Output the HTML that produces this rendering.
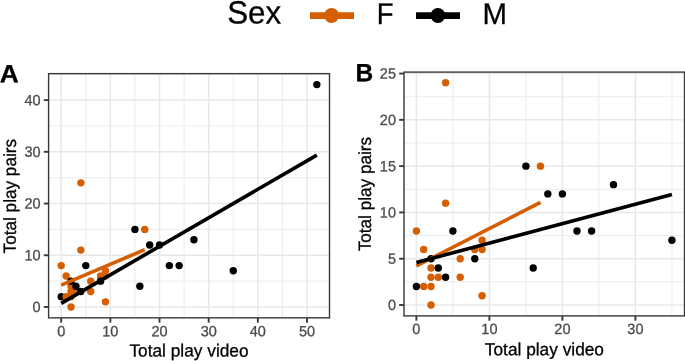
<!DOCTYPE html>
<html lang="en">
<head>
<meta charset="utf-8">
<title>Total play pairs vs total play video by sex</title>
<style>
html,body{margin:0;padding:0;background:#fff;}
body{width:685px;height:361px;overflow:hidden;font-family:"Liberation Sans",sans-serif;}
svg{display:block;}
svg text{stroke-width:0.3px;stroke-linejoin:round;}
svg text.tk{stroke:#4D4D4D;}
svg text.bk{stroke:#000;}
</style>
</head>
<body>
<svg width="685" height="361" viewBox="0 0 685 361" font-family="'Liberation Sans', sans-serif">
<rect x="0" y="0" width="685" height="361" fill="#ffffff"/>
<text transform="translate(227.2,23.6) rotate(0.03) scale(1,1.03)" font-size="31.3" class="bk" fill="#000">Sex</text>
<line x1="310" y1="15.55" x2="354" y2="15.55" stroke="#D55E00" stroke-width="6.7"/>
<circle cx="331.6" cy="15.5" r="7.5" fill="#D55E00"/>
<text transform="translate(376.8,24) rotate(0.03) scale(0.915,1)" font-size="30" class="bk" fill="#000">F</text>
<line x1="416" y1="15.55" x2="460" y2="15.55" stroke="#000000" stroke-width="6.7"/>
<circle cx="437.9" cy="15.5" r="7.4" fill="#000000"/>
<text transform="translate(482.45,24) rotate(0.03) scale(0.98,1)" font-size="30" class="bk" fill="#000">M</text>
<g id="panelA">
<line x1="85.78" y1="73.65" x2="85.78" y2="317.85" stroke="#E8E8E8" stroke-width="0.85"/>
<line x1="134.94" y1="73.65" x2="134.94" y2="317.85" stroke="#E8E8E8" stroke-width="0.85"/>
<line x1="184.1" y1="73.65" x2="184.1" y2="317.85" stroke="#E8E8E8" stroke-width="0.85"/>
<line x1="233.26" y1="73.65" x2="233.26" y2="317.85" stroke="#E8E8E8" stroke-width="0.85"/>
<line x1="282.42" y1="73.65" x2="282.42" y2="317.85" stroke="#E8E8E8" stroke-width="0.85"/>
<line x1="48.6" y1="281.14" x2="329.5" y2="281.14" stroke="#E8E8E8" stroke-width="0.85"/>
<line x1="48.6" y1="229.41" x2="329.5" y2="229.41" stroke="#E8E8E8" stroke-width="0.85"/>
<line x1="48.6" y1="177.69" x2="329.5" y2="177.69" stroke="#E8E8E8" stroke-width="0.85"/>
<line x1="48.6" y1="125.96" x2="329.5" y2="125.96" stroke="#E8E8E8" stroke-width="0.85"/>
<line x1="48.6" y1="74.24" x2="329.5" y2="74.24" stroke="#E8E8E8" stroke-width="0.85"/>
<line x1="61.2" y1="73.65" x2="61.2" y2="317.85" stroke="#E8E8E8" stroke-width="1.5"/>
<line x1="110.36" y1="73.65" x2="110.36" y2="317.85" stroke="#E8E8E8" stroke-width="1.5"/>
<line x1="159.52" y1="73.65" x2="159.52" y2="317.85" stroke="#E8E8E8" stroke-width="1.5"/>
<line x1="208.68" y1="73.65" x2="208.68" y2="317.85" stroke="#E8E8E8" stroke-width="1.5"/>
<line x1="257.84" y1="73.65" x2="257.84" y2="317.85" stroke="#E8E8E8" stroke-width="1.5"/>
<line x1="307" y1="73.65" x2="307" y2="317.85" stroke="#E8E8E8" stroke-width="1.5"/>
<line x1="48.6" y1="307" x2="329.5" y2="307" stroke="#E8E8E8" stroke-width="1.5"/>
<line x1="48.6" y1="255.28" x2="329.5" y2="255.28" stroke="#E8E8E8" stroke-width="1.5"/>
<line x1="48.6" y1="203.55" x2="329.5" y2="203.55" stroke="#E8E8E8" stroke-width="1.5"/>
<line x1="48.6" y1="151.82" x2="329.5" y2="151.82" stroke="#E8E8E8" stroke-width="1.5"/>
<line x1="48.6" y1="100.1" x2="329.5" y2="100.1" stroke="#E8E8E8" stroke-width="1.5"/>
<circle cx="61.2" cy="296.65" r="3.7" fill="#000000"/>
<circle cx="61.2" cy="265.62" r="3.7" fill="#D55E00"/>
<circle cx="66.12" cy="275.96" r="3.7" fill="#D55E00"/>
<circle cx="66.12" cy="296.65" r="3.7" fill="#D55E00"/>
<circle cx="71.03" cy="307" r="3.7" fill="#D55E00"/>
<circle cx="71.03" cy="296.65" r="3.7" fill="#D55E00"/>
<circle cx="71.03" cy="291.48" r="3.7" fill="#D55E00"/>
<circle cx="71.03" cy="286.31" r="3.7" fill="#D55E00"/>
<circle cx="75.95" cy="291.48" r="3.7" fill="#D55E00"/>
<circle cx="80.86" cy="250.1" r="3.7" fill="#D55E00"/>
<circle cx="80.86" cy="182.86" r="3.7" fill="#D55E00"/>
<circle cx="90.7" cy="281.14" r="3.7" fill="#D55E00"/>
<circle cx="90.7" cy="291.48" r="3.7" fill="#D55E00"/>
<circle cx="100.53" cy="275.96" r="3.7" fill="#D55E00"/>
<circle cx="105.44" cy="270.79" r="3.7" fill="#D55E00"/>
<circle cx="105.44" cy="275.96" r="3.7" fill="#D55E00"/>
<circle cx="105.44" cy="301.83" r="3.7" fill="#D55E00"/>
<circle cx="144.77" cy="229.41" r="3.7" fill="#D55E00"/>
<circle cx="71.03" cy="281.14" r="3.7" fill="#000000"/>
<circle cx="75.95" cy="286.31" r="3.7" fill="#000000"/>
<circle cx="80.86" cy="291.48" r="3.7" fill="#000000"/>
<circle cx="85.78" cy="265.62" r="3.7" fill="#000000"/>
<circle cx="100.53" cy="281.14" r="3.7" fill="#000000"/>
<circle cx="134.94" cy="229.41" r="3.7" fill="#000000"/>
<circle cx="139.86" cy="286.31" r="3.7" fill="#000000"/>
<circle cx="149.69" cy="244.93" r="3.7" fill="#000000"/>
<circle cx="159.52" cy="244.93" r="3.7" fill="#000000"/>
<circle cx="169.35" cy="265.62" r="3.7" fill="#000000"/>
<circle cx="179.18" cy="265.62" r="3.7" fill="#000000"/>
<circle cx="193.93" cy="239.76" r="3.7" fill="#000000"/>
<circle cx="233.26" cy="270.79" r="3.7" fill="#000000"/>
<circle cx="316.83" cy="84.58" r="3.7" fill="#000000"/>
<line x1="61.2" y1="285.2" x2="144.77" y2="249.67" stroke="#D55E00" stroke-width="3.6"/>
<line x1="61.2" y1="303.32" x2="316.83" y2="155.08" stroke="#000000" stroke-width="3.6"/>
<rect x="48.6" y="73.65" width="280.9" height="244.2" fill="none" stroke="#383838" stroke-width="1.4"/>
<line x1="61.2" y1="317.85" x2="61.2" y2="322.65" stroke="#383838" stroke-width="1.9"/>
<text transform="translate(61.2,336.2) rotate(0.03) scale(1,1.025)" class="tk" font-size="14.5" fill="#4D4D4D" text-anchor="middle">0</text>
<line x1="110.36" y1="317.85" x2="110.36" y2="322.65" stroke="#383838" stroke-width="1.9"/>
<text transform="translate(110.36,336.2) rotate(0.03) scale(1,1.025)" class="tk" font-size="14.5" fill="#4D4D4D" text-anchor="middle">10</text>
<line x1="159.52" y1="317.85" x2="159.52" y2="322.65" stroke="#383838" stroke-width="1.9"/>
<text transform="translate(159.52,336.2) rotate(0.03) scale(1,1.025)" class="tk" font-size="14.5" fill="#4D4D4D" text-anchor="middle">20</text>
<line x1="208.68" y1="317.85" x2="208.68" y2="322.65" stroke="#383838" stroke-width="1.9"/>
<text transform="translate(208.68,336.2) rotate(0.03) scale(1,1.025)" class="tk" font-size="14.5" fill="#4D4D4D" text-anchor="middle">30</text>
<line x1="257.84" y1="317.85" x2="257.84" y2="322.65" stroke="#383838" stroke-width="1.9"/>
<text transform="translate(257.84,336.2) rotate(0.03) scale(1,1.025)" class="tk" font-size="14.5" fill="#4D4D4D" text-anchor="middle">40</text>
<line x1="307" y1="317.85" x2="307" y2="322.65" stroke="#383838" stroke-width="1.9"/>
<text transform="translate(307,336.2) rotate(0.03) scale(1,1.025)" class="tk" font-size="14.5" fill="#4D4D4D" text-anchor="middle">50</text>
<line x1="43.8" y1="307" x2="48.6" y2="307" stroke="#383838" stroke-width="1.9"/>
<text transform="translate(40.6,312.05) rotate(0.03) scale(1,1.025)" class="tk" font-size="14.5" fill="#4D4D4D" text-anchor="end">0</text>
<line x1="43.8" y1="255.28" x2="48.6" y2="255.28" stroke="#383838" stroke-width="1.9"/>
<text transform="translate(40.6,260.32) rotate(0.03) scale(1,1.025)" class="tk" font-size="14.5" fill="#4D4D4D" text-anchor="end">10</text>
<line x1="43.8" y1="203.55" x2="48.6" y2="203.55" stroke="#383838" stroke-width="1.9"/>
<text transform="translate(40.6,208.6) rotate(0.03) scale(1,1.025)" class="tk" font-size="14.5" fill="#4D4D4D" text-anchor="end">20</text>
<line x1="43.8" y1="151.82" x2="48.6" y2="151.82" stroke="#383838" stroke-width="1.9"/>
<text transform="translate(40.6,156.88) rotate(0.03) scale(1,1.025)" class="tk" font-size="14.5" fill="#4D4D4D" text-anchor="end">30</text>
<line x1="43.8" y1="100.1" x2="48.6" y2="100.1" stroke="#383838" stroke-width="1.9"/>
<text transform="translate(40.6,105.15) rotate(0.03) scale(1,1.025)" class="tk" font-size="14.5" fill="#4D4D4D" text-anchor="end">40</text>
<text transform="translate(189,356.6) rotate(0.03) scale(0.982,1)" font-size="17.6" class="bk" fill="#000" text-anchor="middle">Total play video</text>
<text transform="translate(15.9,196.2) rotate(-89.97) scale(0.976,1)" font-size="17.6" class="bk" fill="#000" text-anchor="middle">Total play pairs</text>
<text transform="translate(-0.2,82.3) rotate(0.03) scale(1.05,1)" font-size="25" font-weight="bold" class="bk" fill="#000">A</text>
</g>
<g id="panelB">
<line x1="452.9" y1="72.1" x2="452.9" y2="315.9" stroke="#E8E8E8" stroke-width="0.85"/>
<line x1="525.9" y1="72.1" x2="525.9" y2="315.9" stroke="#E8E8E8" stroke-width="0.85"/>
<line x1="598.9" y1="72.1" x2="598.9" y2="315.9" stroke="#E8E8E8" stroke-width="0.85"/>
<line x1="671.9" y1="72.1" x2="671.9" y2="315.9" stroke="#E8E8E8" stroke-width="0.85"/>
<line x1="404" y1="281.86" x2="684.5" y2="281.86" stroke="#E8E8E8" stroke-width="0.85"/>
<line x1="404" y1="235.56" x2="684.5" y2="235.56" stroke="#E8E8E8" stroke-width="0.85"/>
<line x1="404" y1="189.28" x2="684.5" y2="189.28" stroke="#E8E8E8" stroke-width="0.85"/>
<line x1="404" y1="142.99" x2="684.5" y2="142.99" stroke="#E8E8E8" stroke-width="0.85"/>
<line x1="404" y1="96.7" x2="684.5" y2="96.7" stroke="#E8E8E8" stroke-width="0.85"/>
<line x1="416.4" y1="72.1" x2="416.4" y2="315.9" stroke="#E8E8E8" stroke-width="1.5"/>
<line x1="489.4" y1="72.1" x2="489.4" y2="315.9" stroke="#E8E8E8" stroke-width="1.5"/>
<line x1="562.4" y1="72.1" x2="562.4" y2="315.9" stroke="#E8E8E8" stroke-width="1.5"/>
<line x1="635.4" y1="72.1" x2="635.4" y2="315.9" stroke="#E8E8E8" stroke-width="1.5"/>
<line x1="404" y1="305" x2="684.5" y2="305" stroke="#E8E8E8" stroke-width="1.5"/>
<line x1="404" y1="258.71" x2="684.5" y2="258.71" stroke="#E8E8E8" stroke-width="1.5"/>
<line x1="404" y1="212.42" x2="684.5" y2="212.42" stroke="#E8E8E8" stroke-width="1.5"/>
<line x1="404" y1="166.13" x2="684.5" y2="166.13" stroke="#E8E8E8" stroke-width="1.5"/>
<line x1="404" y1="119.84" x2="684.5" y2="119.84" stroke="#E8E8E8" stroke-width="1.5"/>
<line x1="404" y1="73.55" x2="684.5" y2="73.55" stroke="#E8E8E8" stroke-width="1.5"/>
<circle cx="416.4" cy="286.48" r="3.7" fill="#000000"/>
<circle cx="416.4" cy="230.94" r="3.7" fill="#D55E00"/>
<circle cx="423.7" cy="249.45" r="3.7" fill="#D55E00"/>
<circle cx="423.7" cy="286.48" r="3.7" fill="#D55E00"/>
<circle cx="431" cy="305" r="3.7" fill="#D55E00"/>
<circle cx="431" cy="286.48" r="3.7" fill="#D55E00"/>
<circle cx="431" cy="277.23" r="3.7" fill="#D55E00"/>
<circle cx="431" cy="267.97" r="3.7" fill="#D55E00"/>
<circle cx="438.3" cy="277.23" r="3.7" fill="#D55E00"/>
<circle cx="445.6" cy="203.16" r="3.7" fill="#D55E00"/>
<circle cx="445.6" cy="82.81" r="3.7" fill="#D55E00"/>
<circle cx="460.2" cy="258.71" r="3.7" fill="#D55E00"/>
<circle cx="460.2" cy="277.23" r="3.7" fill="#D55E00"/>
<circle cx="474.8" cy="249.45" r="3.7" fill="#D55E00"/>
<circle cx="482.1" cy="240.19" r="3.7" fill="#D55E00"/>
<circle cx="482.1" cy="249.45" r="3.7" fill="#D55E00"/>
<circle cx="482.1" cy="295.74" r="3.7" fill="#D55E00"/>
<circle cx="540.5" cy="166.13" r="3.7" fill="#D55E00"/>
<circle cx="431" cy="258.71" r="3.7" fill="#000000"/>
<circle cx="438.3" cy="267.97" r="3.7" fill="#000000"/>
<circle cx="445.6" cy="277.23" r="3.7" fill="#000000"/>
<circle cx="452.9" cy="230.94" r="3.7" fill="#000000"/>
<circle cx="474.8" cy="258.71" r="3.7" fill="#000000"/>
<circle cx="525.9" cy="166.13" r="3.7" fill="#000000"/>
<circle cx="533.2" cy="267.97" r="3.7" fill="#000000"/>
<circle cx="547.8" cy="193.9" r="3.7" fill="#000000"/>
<circle cx="562.4" cy="193.9" r="3.7" fill="#000000"/>
<circle cx="577" cy="230.94" r="3.7" fill="#000000"/>
<circle cx="591.6" cy="230.94" r="3.7" fill="#000000"/>
<circle cx="613.5" cy="184.65" r="3.7" fill="#000000"/>
<circle cx="671.9" cy="240.19" r="3.7" fill="#000000"/>
<line x1="416.4" y1="265.97" x2="540.5" y2="202.39" stroke="#D55E00" stroke-width="3.6"/>
<line x1="416.4" y1="262.5" x2="671.9" y2="194.55" stroke="#000000" stroke-width="3.6"/>
<rect x="404" y="72.1" width="280.5" height="243.8" fill="none" stroke="#383838" stroke-width="1.4"/>
<line x1="416.4" y1="315.9" x2="416.4" y2="320.7" stroke="#383838" stroke-width="1.9"/>
<text transform="translate(416.4,334) rotate(0.03) scale(1,1.025)" class="tk" font-size="14.5" fill="#4D4D4D" text-anchor="middle">0</text>
<line x1="489.4" y1="315.9" x2="489.4" y2="320.7" stroke="#383838" stroke-width="1.9"/>
<text transform="translate(489.4,334) rotate(0.03) scale(1,1.025)" class="tk" font-size="14.5" fill="#4D4D4D" text-anchor="middle">10</text>
<line x1="562.4" y1="315.9" x2="562.4" y2="320.7" stroke="#383838" stroke-width="1.9"/>
<text transform="translate(562.4,334) rotate(0.03) scale(1,1.025)" class="tk" font-size="14.5" fill="#4D4D4D" text-anchor="middle">20</text>
<line x1="635.4" y1="315.9" x2="635.4" y2="320.7" stroke="#383838" stroke-width="1.9"/>
<text transform="translate(635.4,334) rotate(0.03) scale(1,1.025)" class="tk" font-size="14.5" fill="#4D4D4D" text-anchor="middle">30</text>
<line x1="399.2" y1="305" x2="404" y2="305" stroke="#383838" stroke-width="1.9"/>
<text transform="translate(396,310.05) rotate(0.03) scale(1,1.025)" class="tk" font-size="14.5" fill="#4D4D4D" text-anchor="end">0</text>
<line x1="399.2" y1="258.71" x2="404" y2="258.71" stroke="#383838" stroke-width="1.9"/>
<text transform="translate(396,263.76) rotate(0.03) scale(1,1.025)" class="tk" font-size="14.5" fill="#4D4D4D" text-anchor="end">5</text>
<line x1="399.2" y1="212.42" x2="404" y2="212.42" stroke="#383838" stroke-width="1.9"/>
<text transform="translate(396,217.47) rotate(0.03) scale(1,1.025)" class="tk" font-size="14.5" fill="#4D4D4D" text-anchor="end">10</text>
<line x1="399.2" y1="166.13" x2="404" y2="166.13" stroke="#383838" stroke-width="1.9"/>
<text transform="translate(396,171.18) rotate(0.03) scale(1,1.025)" class="tk" font-size="14.5" fill="#4D4D4D" text-anchor="end">15</text>
<line x1="399.2" y1="119.84" x2="404" y2="119.84" stroke="#383838" stroke-width="1.9"/>
<text transform="translate(396,124.89) rotate(0.03) scale(1,1.025)" class="tk" font-size="14.5" fill="#4D4D4D" text-anchor="end">20</text>
<line x1="399.2" y1="73.55" x2="404" y2="73.55" stroke="#383838" stroke-width="1.9"/>
<text transform="translate(396,78.6) rotate(0.03) scale(1,1.025)" class="tk" font-size="14.5" fill="#4D4D4D" text-anchor="end">25</text>
<text transform="translate(544.4,355.3) rotate(0.03) scale(0.982,1)" font-size="17.6" class="bk" fill="#000" text-anchor="middle">Total play video</text>
<text transform="translate(370.9,194.1) rotate(-89.97) scale(0.976,1)" font-size="17.6" class="bk" fill="#000" text-anchor="middle">Total play pairs</text>
<text transform="translate(355.5,81.2) rotate(0.03) scale(0.98,1)" font-size="25" font-weight="bold" class="bk" fill="#000">B</text>
</g>
</svg>
</body>
</html>
